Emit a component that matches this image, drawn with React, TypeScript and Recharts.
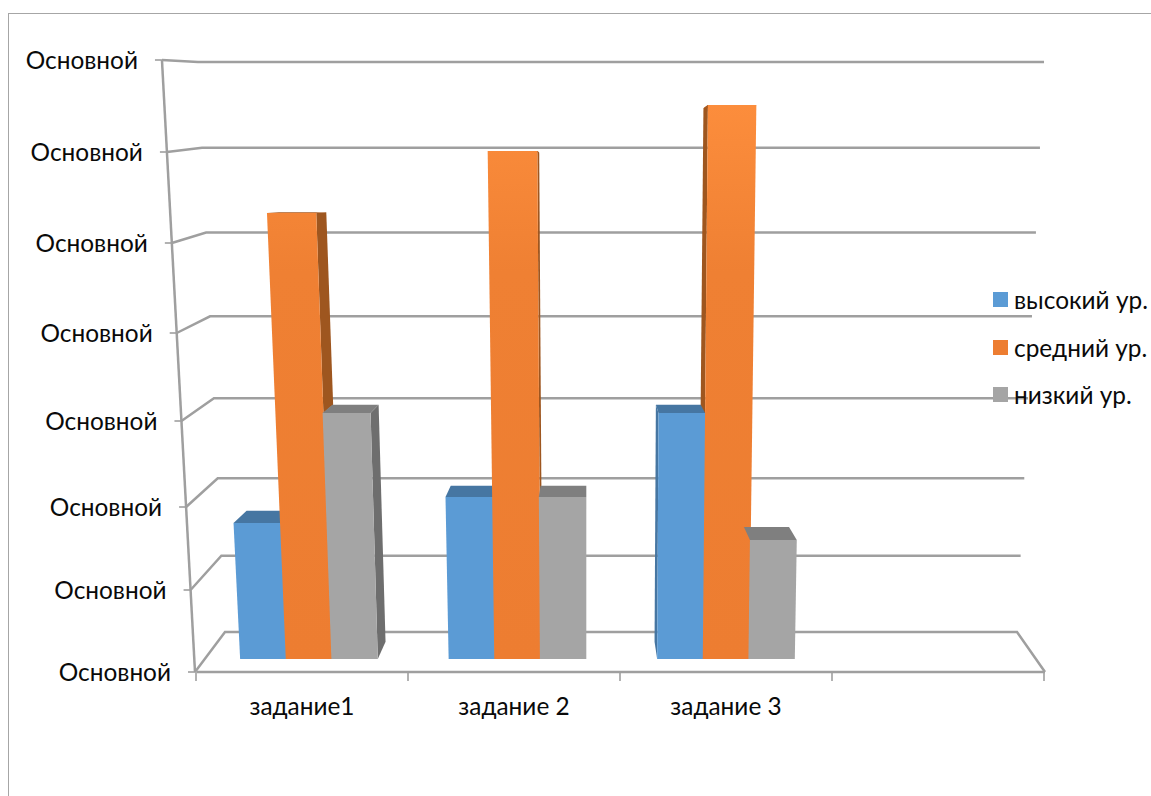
import { BarChart, Bar, XAxis, YAxis, CartesianGrid, Legend } from 'recharts';

const tasks = ['задание1', 'задание 2', 'задание 3', ''];
const highLevel = [149, 175, 259, null];
const midLevel = [459, 521, 567, null];
const lowLevel = [259, 175, 132, null];
const axisTicks = [0, 82, 165, 251, 339, 429, 520, 612];
const tickLabel = 'Основной';
const seriesNames = ['высокий ур.', 'средний ур.', 'низкий ур.'];
const barFloor = 13;

const rows = tasks.map((task, i) => ({
  task,
  high: highLevel[i],
  mid: midLevel[i],
  low: lowLevel[i],
}));

const FONT = 'Lato, "Noto Sans", sans-serif';
const GRID = '#9f9f9f';
const TEXT = '#0a0a0a';

// perspective of the picture
const axisX = (y: number) => 195 - (672 - y) * 0.054;
const backY = (y: number) => y - (y - 89) * 0.0686;
const backLeft = (y: number) => 225 - (632 - y) * 0.0474;
const backRight = (y: number) => 1017 + (632 - y) * 0.0474;
const lean = (x: number, h: number) => x - (587 - x) * (x < 587 ? 0.00014 : 0.00008) * h;
const depthX = (x: number) => x + (587 - x) * 0.037;
const depthY = (y: number) => y - (y - 190) * 0.037;
const shiftX = (x: number) => x + (726 - x) * 0.0165 - 1;

const pts = (list: number[][]) => list.map((p) => p.join(',')).join(' ');

function gridLine(props: any) {
  const y = props.y1;
  const by = backY(y);
  const isFloor = Math.abs(y - 672) < 1;
  const line = [
    [axisX(y), y],
    [backLeft(by), by],
    [backRight(by), by],
  ];
  if (isFloor) line.push([1045, 672]);
  return (
    <g key={y}>
      <polyline points={pts(line)} fill="none" stroke={GRID} strokeWidth={2.5} />
      {isFloor && (
        <line x1={axisX(60)} y1={60} x2={axisX(672)} y2={672} stroke={GRID} strokeWidth={2.5} />
      )}
    </g>
  );
}

function YTick({ y }: any) {
  const ax = axisX(y);
  return (
    <g>
      <line x1={ax - 7} y1={y} x2={ax} y2={y} stroke={GRID} strokeWidth={1.6} />
      <text x={ax - 24} y={y + 9} textAnchor="end" fontSize={24.4} fontFamily={FONT} fill={TEXT}>
        {tickLabel}
      </text>
    </g>
  );
}

function XTick({ x, y, payload, index }: any) {
  return (
    <g>
      <line x1={x - 107} y1={672} x2={x - 107} y2={681} stroke={GRID} strokeWidth={1.6} />
      {index === 3 && <line x1={x + 105} y1={672} x2={x + 105} y2={681} stroke={GRID} strokeWidth={1.6} />}
      <text x={x - 1} y={y + 35} textAnchor="middle" fontSize={24.4} fontFamily={FONT} fill={TEXT}>
        {payload.value}
      </text>
    </g>
  );
}

function makeShape(front: string, top: string, side: string, own: string, left?: string, right?: string) {
  return function BarShape(props: any) {
    const { x, y, width, height, payload } = props;
    if (payload[own] == null) return <g />;
    const l = shiftX(x);
    const r = l + width;
    const base = y + height;
    const tl = lean(l, height);
    const tr = lean(r, height);
    const toCentre = l > 587;
    const edge = toCentre ? tl : tr;
    const edgeBase = toCentre ? l : r;
    const nb = toCentre ? left : right;
    const nbValue = nb ? payload[nb] : barFloor;
    const lowY = y + (payload[own] - nbValue);
    const lowEdge = edgeBase + (edge - edgeBase) * ((base - lowY) / height);
    return (
      <g>
        {lowY > y && (
          <polygon
            points={pts([
              [edge, y],
              [depthX(edge), depthY(y)],
              [depthX(lowEdge), depthY(lowY)],
              [lowEdge, lowY],
            ])}
            fill={side}
          />
        )}
        <polygon
          points={pts([
            [tl, y],
            [depthX(tl), depthY(y)],
            [depthX(tr), depthY(y)],
            [tr, y],
          ])}
          fill={top}
        />
        <polygon
          points={pts([
            [l, base],
            [tl, y],
            [tr, y],
            [r, base],
          ])}
          fill={front}
        />
      </g>
    );
  };
}

const legendColors = ['#5b9bd5', '#ed7d31', '#a5a5a5'];

function LegendRows() {
  return (
    <div style={{ fontFamily: FONT, fontSize: 24.4, color: TEXT }}>
      {seriesNames.map((name, i) => (
        <div key={name} style={{ display: 'flex', alignItems: 'center', height: 47.5 }}>
          <span style={{ width: 15, height: 15, background: legendColors[i], marginRight: 6 }} />
          <span style={{ whiteSpace: 'nowrap' }}>{name}</span>
        </div>
      ))}
    </div>
  );
}

export default function App() {
  return (
    <div style={{ position: 'relative', width: 1151, height: 796, background: '#fff' }}>
      <style>{'body { margin: 0; }'}</style>
      <BarChart
        width={1151}
        height={796}
        data={rows}
        barGap={0}
        barSize={46.4}
        margin={{ top: 60, right: 106, bottom: 94, left: 167 }}
        style={{ position: 'absolute', left: 0, top: 0 }}
      >
        <defs>
          <linearGradient id="midFill" gradientUnits="userSpaceOnUse" x1="0" y1="105" x2="0" y2="659">
            <stop offset="0" stopColor="#fc8d3c" />
            <stop offset="0.3" stopColor="#ef8033" />
            <stop offset="1" stopColor="#ed7d31" />
          </linearGradient>
        </defs>
        <CartesianGrid vertical={false} horizontal={gridLine} syncWithTicks />
        <XAxis
          dataKey="task"
          height={30}
          interval={0}
          axisLine={{ stroke: GRID, strokeWidth: 2.5 }}
          tickLine={false}
          tick={<XTick />}
        />
        <YAxis
          width={30}
          domain={[0, 612]}
          ticks={axisTicks}
          axisLine={false}
          tickLine={false}
          interval={0}
          tick={<YTick />}
        />
        <Legend
          layout="horizontal"
          verticalAlign="middle"
          align="center"
          wrapperStyle={{ left: 993, top: 276, width: 158 }}
          content={<LegendRows />}
        />
        <Bar
          dataKey={(r: any) => (r.high == null ? null : [barFloor, r.high])}
          name={seriesNames[0]}
          isAnimationActive={false}
          shape={makeShape('#5b9bd5', '#4676a2', '#4676a2', 'high', undefined, 'mid')}
        />
        <Bar
          dataKey={(r: any) => (r.mid == null ? null : [barFloor, r.mid])}
          name={seriesNames[1]}
          isAnimationActive={false}
          shape={makeShape('url(#midFill)', '#a9591f', '#9e561f', 'mid', 'high', 'low')}
        />
        <Bar
          dataKey={(r: any) => (r.low == null ? null : [barFloor, r.low])}
          name={seriesNames[2]}
          isAnimationActive={false}
          shape={makeShape('#a5a5a5', '#7f7f7f', '#6e6e6e', 'low', 'mid', undefined)}
        />
      </BarChart>
      <div
        style={{
          position: 'absolute',
          left: 8,
          top: 13,
          width: 1143,
          height: 783,
          borderTop: '1px solid #a6a6a6',
          borderLeft: '1px solid #a6a6a6',
          boxSizing: 'border-box',
          pointerEvents: 'none',
        }}
      />
    </div>
  );
}
